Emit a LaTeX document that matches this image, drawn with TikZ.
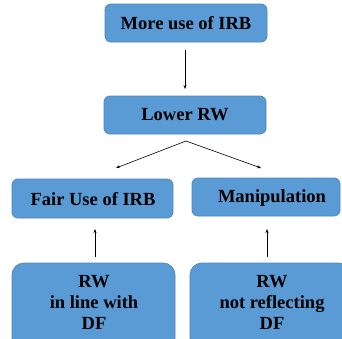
\documentclass[tikz,border=0pt]{standalone}
\usepackage{fontspec}
\setmainfont{Liberation Serif}
\usetikzlibrary{arrows.meta}
\definecolor{boxfill}{HTML}{5B9BD5}
\definecolor{boxline}{HTML}{4A86BE}
\begin{document}
\begin{tikzpicture}[x=1pt,y=-1pt,
  box/.style={draw=boxline, fill=boxfill, line width=0.8pt, rounded corners=6pt},
  lbl/.style={font=\rmfamily\bfseries\fontsize{18.5}{21}\selectfont, align=center, inner sep=0pt},
  arr/.style={-{Stealth[length=4pt,width=3pt]}, line width=0.6pt, black}]
\useasboundingbox (0,0) rectangle (342,338);
\begin{scope}
\clip (0,0) rectangle (342,338);
\draw[box] (105,4) rectangle (267,42);
\node[lbl] (a) at (186,23) {More use of IRB};
\draw[box] (104,96) rectangle (266,134);
\node[lbl] (b) at (185,115) {Lower RW};
\draw[box] (12,179) rectangle (173,218);
\node[lbl] (c) at (93,199) {Fair Use of IRB};
\draw[box] (192,178) rectangle (340,216);
\node[lbl] (d) at (272,198) {Manipulation};
\draw[box, rounded corners=12pt] (12,263) rectangle (175,350);
\node[lbl] (e) at (94,302) {RW\\in line with\\DF};
\draw[box, rounded corners=12pt] (190,263) rectangle (350,350);
\node[lbl] (f) at (272,302) {RW\\not reflecting\\DF};
\end{scope}
\coordinate (a1) at (185,50);
\coordinate (b0) at (185,89);
\coordinate (b1) at (186,141);
\coordinate (cl) at (116,168);
\coordinate (cr) at (261,168);
\coordinate (e1) at (95,257);
\coordinate (c0) at (95,229);
\coordinate (f1) at (267,257);
\coordinate (d0) at (267,229);
\draw[arr] (a1) -- (b0);
\draw[arr] (b1) -- (cl);
\draw[arr] (b1) -- (cr);
\draw[arr] (e1) -- (c0);
\draw[arr] (f1) -- (d0);
\end{tikzpicture}
\end{document}
